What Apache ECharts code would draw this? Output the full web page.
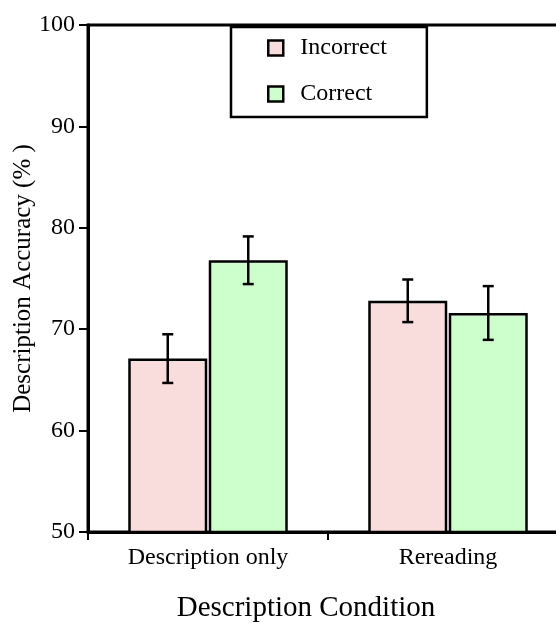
<!DOCTYPE html>
<html>
<head>
<meta charset="utf-8">
<script src="https://cdn.jsdelivr.net/npm/echarts@6/dist/echarts.min.js"></script>
<style>html,body{margin:0;padding:0;background:#fff}#c{width:556px;height:625px}</style>
</head>
<body>
<div id="c"></div>
<script>
const categories = ['Description only', 'Rereading'];
const seriesNames = ['Incorrect', 'Correct'];
const incorrect = [67.1, 72.8];
const correct = [76.8, 71.6];
const incorrectErr = [2.4, 2.1];
const correctErr = [2.35, 2.65];
const yTicks = [50, 60, 70, 80, 90, 100];

const FONT = '"Liberation Serif", "Times New Roman", serif';
const BAR_W = 79;
const GAP = 1.5;
const colors = ['#f9dcdc', '#ccffcc'];

function errSeries(vals, errs, sign) {
  return {
    type: 'custom',
    silent: true,
    z: 5,
    data: vals.map((v, i) => [i, v - errs[i], v + errs[i]]),
    renderItem: function (params, api) {
      const i = api.value(0);
      const lo = api.coord([i, api.value(1)]);
      const hi = api.coord([i, api.value(2)]);
      const x = lo[0] + sign * (BAR_W + GAP) / 2;
      const cap = 5.5;
      const st = { stroke: '#000', lineWidth: 2.5 };
      return {
        type: 'group',
        children: [
          { type: 'line', shape: { x1: x, y1: lo[1], x2: x, y2: hi[1] }, style: st },
          { type: 'line', shape: { x1: x - cap, y1: lo[1], x2: x + cap, y2: lo[1] }, style: st },
          { type: 'line', shape: { x1: x - cap, y1: hi[1], x2: x + cap, y2: hi[1] }, style: st }
        ]
      };
    }
  };
}

const chart = echarts.init(document.getElementById('c'), null, { renderer: 'canvas' });
chart.setOption({
  animation: false,
  grid: { left: 88, top: 25, width: 480, height: 507, outerBoundsMode: 'none', containLabel: false, show: true, borderColor: '#000', borderWidth: 3, backgroundColor: 'transparent' },
  legend: {
    orient: 'vertical',
    left: 231, top: 27,
    data: seriesNames.map(n => ({ name: n, icon: 'rect' })),
    backgroundColor: '#fff',
    borderColor: '#000', borderWidth: 2.5,
    padding: [9, 40, 11, 36],
    itemWidth: 15, itemHeight: 15,
    itemGap: 22,
    itemStyle: { borderColor: '#000', borderWidth: 2.5 },
    textStyle: { fontFamily: FONT, fontSize: 24, color: '#000', lineHeight: 20, padding: [0, 0, 0, 12] }
  },
  xAxis: {
    type: 'category',
    data: categories,
    name: 'Description Condition',
    nameLocation: 'middle',
    nameGap: 62,
    nameMoveOverlap: false,
    nameTextStyle: { fontFamily: FONT, fontSize: 29, color: '#000', padding: [0, 44, 0, 0] },
    axisLine: { lineStyle: { color: '#000', width: 3 } },
    axisTick: { show: true, length: 8, lineStyle: { color: '#000', width: 2 } },
    axisLabel: { fontFamily: FONT, fontSize: 24, color: '#000', margin: 14 },
    splitLine: { show: false }
  },
  yAxis: {
    type: 'value',
    min: yTicks[0], max: yTicks[yTicks.length - 1], interval: 10,
    name: 'Description Accuracy (% )',
    nameLocation: 'middle',
    nameGap: 52,
    nameMoveOverlap: false,
    nameTextStyle: { fontFamily: FONT, fontSize: 25, color: '#000' },
    axisLine: { show: true, lineStyle: { color: '#000', width: 3 } },
    axisTick: { show: true, length: 9, lineStyle: { color: '#000', width: 2 } },
    axisLabel: { fontFamily: FONT, fontSize: 24, color: '#000', margin: 13 },
    splitLine: { show: false }
  },
  series: [
    {
      name: seriesNames[0], type: 'bar', data: incorrect,
      barWidth: BAR_W, barGap: (GAP / BAR_W * 100) + '%',
      itemStyle: { color: colors[0], borderColor: '#000', borderWidth: 2.5 }
    },
    {
      name: seriesNames[1], type: 'bar', data: correct,
      barWidth: BAR_W,
      itemStyle: { color: colors[1], borderColor: '#000', borderWidth: 2.5 }
    },
    errSeries(incorrect, incorrectErr, -1),
    errSeries(correct, correctErr, 1)
  ]
});
</script>
</body>
</html>
